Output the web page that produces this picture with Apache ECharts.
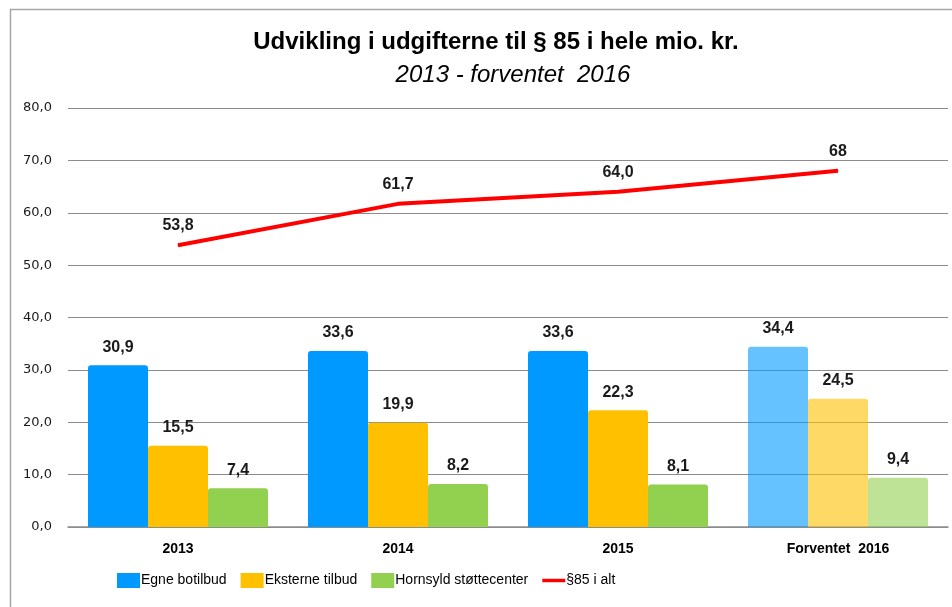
<!DOCTYPE html>
<html>
<head>
<meta charset="utf-8">
<script src="https://cdn.jsdelivr.net/npm/echarts@6/dist/echarts.min.js"></script>
<style>
  html, body { margin: 0; padding: 0; background: #fff; }
  #chart { width: 952px; height: 607px; }
</style>
</head>
<body>
<div id="chart"></div>
<script>
// data
var categories = ["2013", "2014", "2015", "Forventet  2016"];
var egneBotilbud = [30.9, 33.6, 33.6, 34.4];
var eksterneTilbud = [15.5, 19.9, 22.3, 24.5];
var hornsyld = [7.4, 8.2, 8.1, 9.4];
var totalAlt = [53.8, 61.7, 64.0, 68];
var totalLabels = ["53,8", "61,7", "64,0", "68"];
var yTicks = [0, 10, 20, 30, 40, 50, 60, 70, 80];

var font = "'Liberation Sans', sans-serif";
var myChart = echarts.init(document.getElementById("chart"));

// forventet (last category) is drawn lighter
function withForecast(values, color) {
  return values.map(function (v, i) {
    if (i === values.length - 1) {
      return {
        value: v,
        itemStyle: { color: color, opacity: 0.6 },
        label: { opacity: 1 }
      };
    }
    return v;
  });
}

function commaFmt(p) {
  return p.value.toFixed(1).replace(".", ",");
}

var barLabel = {
  show: true,
  position: "top",
  distance: 10,
  color: "#1a1a1a",
  fontFamily: font,
  fontWeight: "bold",
  fontSize: 16,
  formatter: commaFmt
};

myChart.setOption({
  animation: false,
  backgroundColor: "#fff",
  title: [
    {
      text: "Udvikling i udgifterne til § 85 i hele mio. kr.",
      left: 491,
      textAlign: "center",
      top: 25,
      textStyle: { fontFamily: font, fontWeight: "bold", fontSize: 24, color: "#000" }
    },
    {
      text: "2013 - forventet  2016",
      left: 508,
      textAlign: "center",
      top: 58,
      textStyle: { fontFamily: font, fontStyle: "italic", fontWeight: "normal", fontSize: 24, color: "#000" }
    }
  ],
  graphic: [
    {
      type: "rect",
      shape: { x: 10.5, y: 9.5, width: 960, height: 620 },
      style: { fill: "none", stroke: "#a6a6a6", lineWidth: 1.5 },
      silent: true
    }
  ],
  legend: {
    bottom: 14,
    left: 112,
    itemWidth: 23,
    itemHeight: 15,
    itemGap: 14,
    textStyle: { fontFamily: font, fontSize: 14, color: "#000", padding: [0, 0, 0, -4] },
    data: [
      { name: "Egne botilbud", icon: "rect" },
      { name: "Eksterne tilbud", icon: "rect" },
      { name: "Hornsyld støttecenter", icon: "rect" },
      { name: "§85 i alt", icon: "path://M0,0 L20,0 L20,3 L0,3 Z", itemStyle: { color: "#ff0000" } }
    ]
  },
  grid: {
    left: 68,
    right: 4,
    top: 108,
    bottom: 80
  },
  xAxis: {
    type: "category",
    data: categories,
    axisTick: { show: false },
    axisLine: { lineStyle: { color: "#8c8c8c", width: 1.5 } },
    axisLabel: {
      color: "#000",
      fontFamily: font,
      fontWeight: "bold",
      fontSize: 14,
      margin: 15
    }
  },
  yAxis: {
    type: "value",
    min: yTicks[0],
    max: yTicks[yTicks.length - 1],
    interval: 10,
    axisLine: { show: false },
    axisTick: { show: false },
    axisLabel: {
      color: "#1a1a1a",
      fontFamily: "'DejaVu Sans', sans-serif",
      fontSize: 13,
      margin: 16,
      formatter: function (v) { return v.toFixed(1).replace(".", ","); }
    },
    splitLine: { lineStyle: { color: "#8c8c8c", width: 1.2 } }
  },
  series: [
    {
      name: "Egne botilbud",
      type: "bar",
      barWidth: 60,
      barGap: "0%",
      itemStyle: { color: "#0099ff", borderRadius: [3, 3, 0, 0] },
      label: barLabel,
      data: withForecast(egneBotilbud, "#0099ff")
    },
    {
      name: "Eksterne tilbud",
      type: "bar",
      barWidth: 60,
      barGap: "0%",
      itemStyle: { color: "#ffc000", borderRadius: [3, 3, 0, 0] },
      label: barLabel,
      data: withForecast(eksterneTilbud, "#ffc000")
    },
    {
      name: "Hornsyld støttecenter",
      type: "bar",
      barWidth: 60,
      barGap: "0%",
      itemStyle: { color: "#92d050", borderRadius: [3, 3, 0, 0] },
      label: barLabel,
      data: withForecast(hornsyld, "#92d050")
    },
    {
      name: "§85 i alt",
      type: "line",
      data: totalAlt,
      symbol: "circle",
      symbolSize: 1,
      showSymbol: true,
      lineStyle: { color: "#ff0000", width: 4 },
      itemStyle: { color: "#ff0000" },
      label: {
        show: true,
        position: "top",
        distance: 11,
        color: "#1a1a1a",
        fontFamily: font,
        fontWeight: "bold",
        fontSize: 16,
        formatter: function (p) { return totalLabels[p.dataIndex]; }
      },
      z: 5
    }
  ]
});
</script>
</body>
</html>
